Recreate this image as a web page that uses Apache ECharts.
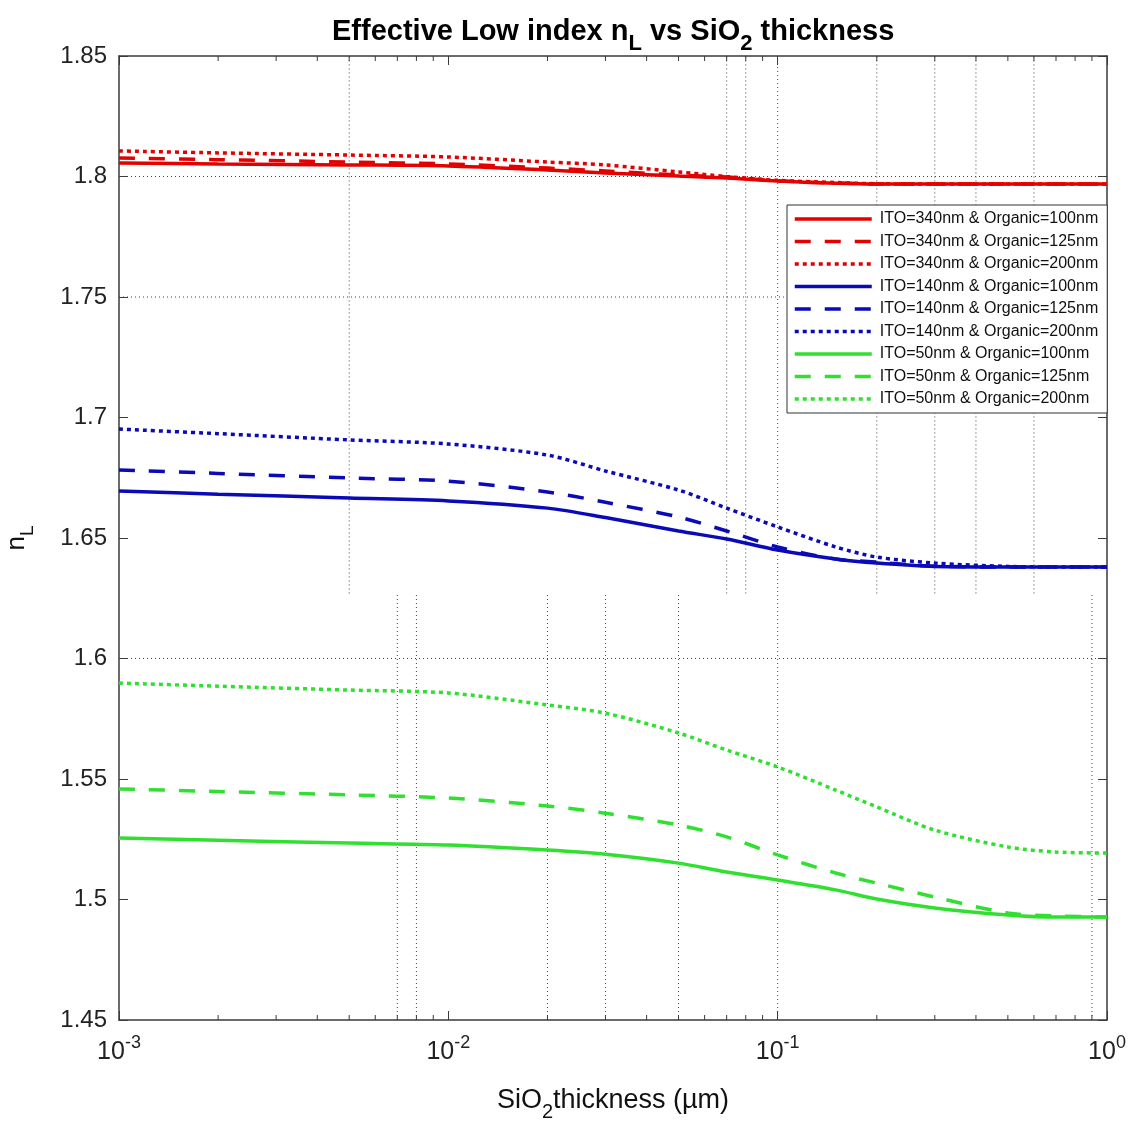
<!DOCTYPE html>
<html>
<head>
<meta charset="utf-8">
<style>
  html, body { margin: 0; padding: 0; background: #fff; }
  #chart { width: 1137px; height: 1124px; }
</style>
<script src="https://cdn.jsdelivr.net/npm/echarts@6/dist/echarts.min.js"></script>
</head>
<body>
<div id="chart"></div>
<script>
// SiO2 thickness samples (µm)
const thickness = [0.001, 0.002, 0.005, 0.01, 0.02, 0.03, 0.05, 0.07, 0.1, 0.15, 0.2, 0.3, 0.5, 0.7, 1];

// Effective low index n_L for each ITO / organic combination
const ito340org100 = [1.8056, 1.8052, 1.8048, 1.8044, 1.8027, 1.8015, 1.8002, 1.7994, 1.7981, 1.7972, 1.7969, 1.7969, 1.7969, 1.7969, 1.7969];
const ito340org125 = [1.8077, 1.8070, 1.8060, 1.8052, 1.8035, 1.8023, 1.8006, 1.7998, 1.7982, 1.7973, 1.7969, 1.7969, 1.7969, 1.7969, 1.7969];
const ito340org200 = [1.8106, 1.8098, 1.8089, 1.8081, 1.8060, 1.8048, 1.8019, 1.8000, 1.7984, 1.7975, 1.7970, 1.7969, 1.7969, 1.7969, 1.7969];
const ito140org100 = [1.6695, 1.6682, 1.6666, 1.6654, 1.6624, 1.6585, 1.6529, 1.6496, 1.6450, 1.6413, 1.6396, 1.6382, 1.6380, 1.6380, 1.6380];
const ito140org125 = [1.6782, 1.6768, 1.6749, 1.6736, 1.6691, 1.6648, 1.6587, 1.6529, 1.6463, 1.6413, 1.6400, 1.6383, 1.6380, 1.6380, 1.6380];
const ito140org200 = [1.6952, 1.6933, 1.6907, 1.6890, 1.6844, 1.6778, 1.6699, 1.6624, 1.6546, 1.6463, 1.6421, 1.6396, 1.6382, 1.6380, 1.6380];
const ito50org100  = [1.5255, 1.5246, 1.5234, 1.5226, 1.5205, 1.5188, 1.5151, 1.5114, 1.5081, 1.5040, 1.5002, 1.4965, 1.4936, 1.4927, 1.4927];
const ito50org125  = [1.5459, 1.5448, 1.5434, 1.5421, 1.5388, 1.5358, 1.5309, 1.5260, 1.5185, 1.5110, 1.5068, 1.5010, 1.4944, 1.4932, 1.4927];
const ito50org200  = [1.5898, 1.5885, 1.5869, 1.5857, 1.5807, 1.5773, 1.5691, 1.5620, 1.5550, 1.5454, 1.5384, 1.5288, 1.5218, 1.5197, 1.5193];

const seriesNames = [
  'ITO=340nm & Organic=100nm', 'ITO=340nm & Organic=125nm', 'ITO=340nm & Organic=200nm',
  'ITO=140nm & Organic=100nm', 'ITO=140nm & Organic=125nm', 'ITO=140nm & Organic=200nm',
  'ITO=50nm & Organic=100nm',  'ITO=50nm & Organic=125nm',  'ITO=50nm & Organic=200nm'
];

// Axis ranges and ticks
const xMin = 0.001, xMax = 1;
const yMin = 1.45, yMax = 1.85, yStep = 0.05;
const xMinorTicks = [0.002, 0.003, 0.004, 0.005, 0.006, 0.007, 0.008, 0.009,
                     0.02, 0.03, 0.04, 0.05, 0.06, 0.07, 0.08, 0.09,
                     0.2, 0.3, 0.4, 0.5, 0.6, 0.7, 0.8, 0.9];

// Dotted grid lines (some only span part of the plot height)
const gridSplitY = 1.627;
const gridXUpper = [0.005, 0.07, 0.08, 0.2, 0.3, 0.4, 0.6];
const gridXLower = [0.007, 0.008, 0.02, 0.03, 0.05, 0.9];
const gridXFull = [0.1];
const gridY = [1.8, 1.75, 1.6];

const RED = '#e50000', BLUE = '#0a0ab8', GREEN = '#30e030';
const FONT = 'Liberation Sans, Arial, sans-serif';

function curve(name, values, color, dash) {
  return {
    name: name,
    type: 'line',
    data: thickness.map((t, i) => [t, values[i]]),
    smooth: 0.3,
    symbol: 'none',
    z: 3,
    lineStyle: { color: color, width: 3.5, type: dash },
    itemStyle: { color: color }
  };
}

const DASHED = [16, 14];
const DOTTED = [4, 4];

const gridSegments = [];
gridXUpper.forEach(x => gridSegments.push([x, gridSplitY, x, yMax]));
gridXLower.forEach(x => gridSegments.push([x, yMin, x, gridSplitY]));
gridXFull.forEach(x => gridSegments.push([x, yMin, x, yMax]));
gridY.forEach(y => gridSegments.push([xMin, y, xMax, y]));

const chart = echarts.init(document.getElementById('chart'), null, { renderer: 'canvas' });

chart.setOption({
  backgroundColor: '#ffffff',
  animation: false,
  textStyle: { fontFamily: FONT },
  title: {
    text: 'Effective Low index n{sub|L} vs SiO{sub|2} thickness',
    left: 327,
    top: 4,
    textStyle: {
      fontFamily: FONT,
      fontSize: 29,
      fontWeight: 'bold',
      color: '#000',
      rich: {
        sub: { fontFamily: FONT, fontSize: 22, fontWeight: 'bold', color: '#000', padding: [24, 0, 0, 0] }
      }
    }
  },
  grid: { left: 119, right: 30, top: 56, bottom: 104, containLabel: false, outerBoundsMode: 'none' },
  legend: {
    data: seriesNames,
    orient: 'vertical',
    left: 787,
    top: 205,
    itemWidth: 77,
    itemHeight: 14,
    itemGap: 6.5,
    padding: [6, 9, 6, 6],
    backgroundColor: '#ffffff',
    borderColor: '#333',
    borderWidth: 1,
    borderRadius: 0,
    z: 10,
    itemStyle: { opacity: 0 },
    lineStyle: { width: 3.5 },
    textStyle: { fontFamily: FONT, fontSize: 16, lineHeight: 14, color: '#111', padding: [0, 0, 0, 3] }
  },
  xAxis: [{
    type: 'log',
    min: xMin,
    max: xMax,
    logBase: 10,
    position: 'bottom',
    name: 'SiO{sub|2}thickness (µm)',
    nameLocation: 'middle',
    nameGap: 60,
    nameTextStyle: {
      fontFamily: FONT, fontSize: 27, color: '#111',
      rich: { sub: { fontFamily: FONT, fontSize: 20, color: '#111', padding: [22, 0, 0, 0] } }
    },
    axisLine: { show: true, lineStyle: { color: '#3a3a3a', width: 1.5 } },
    axisTick: { show: true, inside: true, length: 9, lineStyle: { color: '#3a3a3a', width: 1 } },
    splitLine: { show: false },
    axisLabel: {
      margin: 14,
      color: '#222',
      fontFamily: FONT,
      fontSize: 25,
      formatter: v => '10{sup|' + Math.round(Math.log10(v)) + '}',
      rich: { sup: { fontFamily: FONT, fontSize: 18, color: '#222', padding: [0, 0, 18, 0] } }
    }
  }, {
    type: 'log',
    min: xMin,
    max: xMax,
    logBase: 10,
    position: 'top',
    axisLine: { show: true, lineStyle: { color: '#3a3a3a', width: 1.5 } },
    axisTick: { show: true, inside: true, length: 9, lineStyle: { color: '#3a3a3a', width: 1 } },
    axisLabel: { show: false },
    splitLine: { show: false }
  }],
  yAxis: [{
    type: 'value',
    min: yMin,
    max: yMax,
    interval: yStep,
    position: 'left',
    name: 'n{sub|L}',
    nameLocation: 'middle',
    nameRotate: 90,
    nameGap: 82,
    nameTextStyle: {
      fontFamily: FONT, fontSize: 26, color: '#111',
      rich: { sub: { fontFamily: FONT, fontSize: 19, color: '#111', padding: [22, 0, 0, 0] } }
    },
    axisLine: { show: true, lineStyle: { color: '#3a3a3a', width: 1.5 } },
    axisTick: { show: true, inside: true, length: 9, lineStyle: { color: '#3a3a3a', width: 1 } },
    splitLine: { show: false },
    axisLabel: {
      margin: 12,
      color: '#222',
      fontFamily: FONT,
      fontSize: 24,
      formatter: v => String(parseFloat(v.toFixed(2)))
    }
  }, {
    type: 'value',
    min: yMin,
    max: yMax,
    interval: yStep,
    position: 'right',
    axisLine: { show: true, lineStyle: { color: '#3a3a3a', width: 1.5 } },
    axisTick: { show: true, inside: true, length: 9, lineStyle: { color: '#3a3a3a', width: 1 } },
    axisLabel: { show: false },
    splitLine: { show: false }
  }],
  series: [
    {
      name: 'grid',
      type: 'custom',
      z: 1,
      silent: true,
      xAxisIndex: 0,
      yAxisIndex: 0,
      data: gridSegments,
      renderItem: (params, api) => {
        const p1 = api.coord([api.value(0), api.value(1)]);
        const p2 = api.coord([api.value(2), api.value(3)]);
        return {
          type: 'line',
          shape: { x1: p1[0], y1: p1[1], x2: p2[0], y2: p2[1] },
          style: { stroke: '#444', lineWidth: 1, lineDash: [1, 3] }
        };
      }
    },
    {
      name: 'minorTicks',
      type: 'custom',
      z: 4,
      silent: true,
      xAxisIndex: 0,
      yAxisIndex: 0,
      data: xMinorTicks.map(t => [t, yMin]),
      clip: false,
      renderItem: (params, api) => {
        const bottom = api.coord([api.value(0), yMin]);
        const top = api.coord([api.value(0), yMax]);
        return {
          type: 'group',
          children: [
            { type: 'line', shape: { x1: bottom[0], y1: bottom[1], x2: bottom[0], y2: bottom[1] - 5 },
              style: { stroke: '#3a3a3a', lineWidth: 1 } },
            { type: 'line', shape: { x1: top[0], y1: top[1], x2: top[0], y2: top[1] + 5 },
              style: { stroke: '#3a3a3a', lineWidth: 1 } }
          ]
        };
      }
    },
    curve(seriesNames[0], ito340org100, RED, 'solid'),
    curve(seriesNames[1], ito340org125, RED, DASHED),
    curve(seriesNames[2], ito340org200, RED, DOTTED),
    curve(seriesNames[3], ito140org100, BLUE, 'solid'),
    curve(seriesNames[4], ito140org125, BLUE, DASHED),
    curve(seriesNames[5], ito140org200, BLUE, DOTTED),
    curve(seriesNames[6], ito50org100, GREEN, 'solid'),
    curve(seriesNames[7], ito50org125, GREEN, DASHED),
    curve(seriesNames[8], ito50org200, GREEN, DOTTED)
  ]
});
</script>
</body>
</html>
